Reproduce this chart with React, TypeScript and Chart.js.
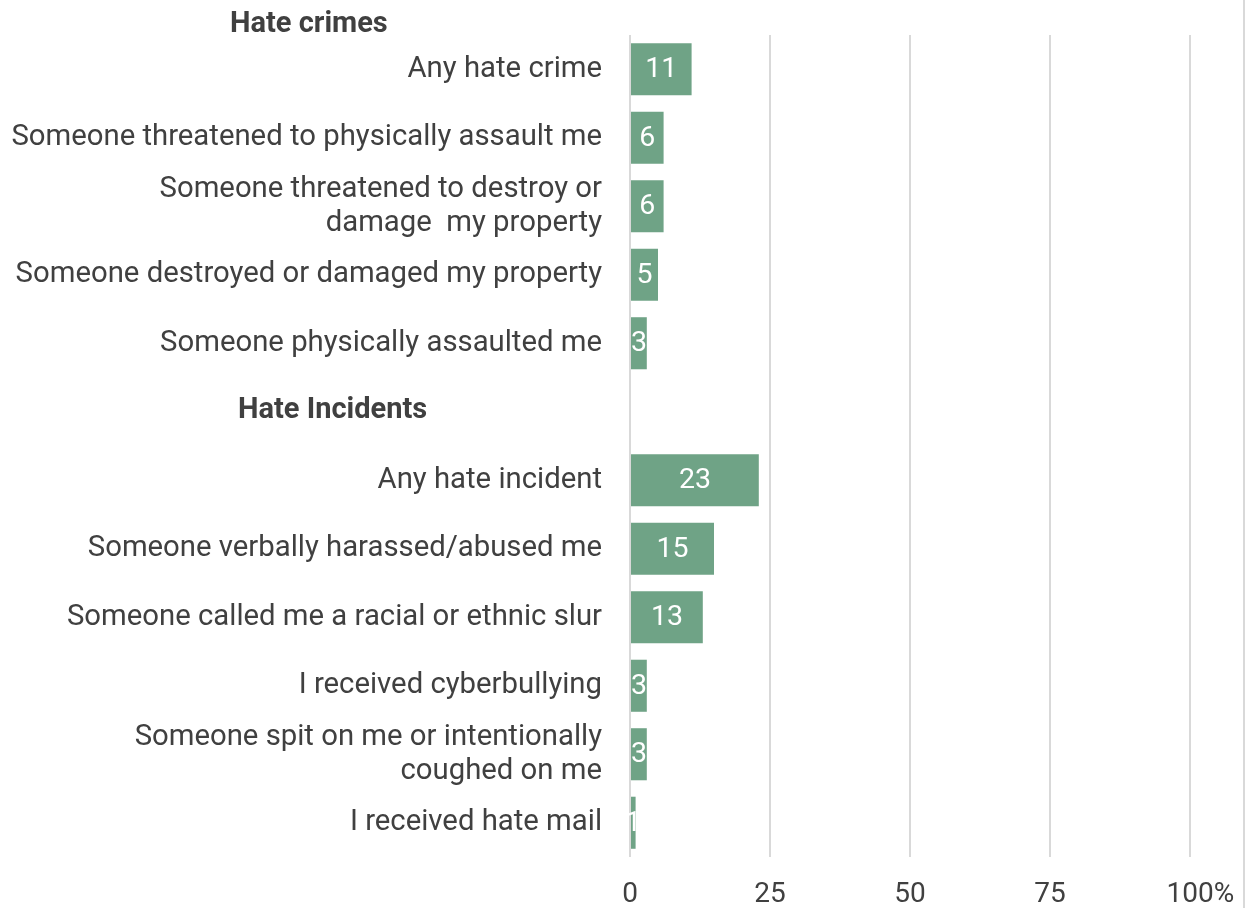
import React, { useEffect, useRef } from "react";
import { Chart, registerables } from "chart.js";

Chart.register(...registerables);

const categories: (string | string[])[] = [
  "Any hate crime",
  "Someone threatened to physically assault me",
  ["Someone threatened to destroy or", "damage  my property"],
  "Someone destroyed or damaged my property",
  "Someone physically assaulted me",
  "",
  "Any hate incident",
  "Someone verbally harassed/abused me",
  "Someone called me a racial or ethnic slur",
  "I received cyberbullying",
  ["Someone spit on me or intentionally", "coughed on me"],
  "I received hate mail",
];

const values: (number | null)[] = [11, 6, 6, 5, 3, null, 23, 15, 13, 3, 3, 1];

const xTicks = [0, 25, 50, 75, 100];

const groupTitles = ["Hate crimes", "Hate Incidents"];

const TEXT = "#404040";
const BAR = "#6FA386";
const GRID = "#d9d9d9";

const labelsPlugin = {
  id: "barLabels",
  afterDatasetsDraw(chart: any) {
    const ctx = chart.ctx;
    const meta = chart.getDatasetMeta(0);
    ctx.save();
    ctx.fillStyle = "#ffffff";
    ctx.font = "28.5px Roboto";
    ctx.textAlign = "center";
    ctx.textBaseline = "middle";
    meta.data.forEach((bar: any, i: number) => {
      const v = values[i];
      if (v === null || v === undefined) return;
      const cx = (bar.x + bar.base) / 2;
      ctx.fillText(String(v), cx, bar.y + 1);
    });
    ctx.restore();
  },
};

const headersPlugin = {
  id: "groupHeaders",
  afterDraw(chart: any) {
    const ctx = chart.ctx;
    const yScale = chart.scales.y;
    ctx.save();
    ctx.fillStyle = TEXT;
    ctx.font = "bold 29px Roboto";
    ctx.textAlign = "left";
    ctx.textBaseline = "middle";
    ctx.fillText(groupTitles[0], 230, chart.chartArea.top - 10);
    ctx.fillText(groupTitles[1], 238, yScale.getPixelForValue(5) - 1);
    ctx.restore();
  },
};

export default function App() {
  const ref = useRef<HTMLCanvasElement | null>(null);

  useEffect(() => {
    if (!ref.current) return;
    const chart = new Chart(ref.current, {
      type: "bar",
      data: {
        labels: categories,
        datasets: [
          {
            data: values as any,
            backgroundColor: BAR,
            borderWidth: 0,
            barPercentage: 0.76,
            categoryPercentage: 1,
          },
        ],
      },
      options: {
        indexAxis: "y",
        animation: false,
        responsive: true,
        maintainAspectRatio: false,
        layout: { padding: { top: 35, right: 53, left: 0, bottom: 0 } },
        plugins: {
          legend: { display: false },
          tooltip: { enabled: false },
          title: { display: false },
        },
        scales: {
          x: {
            type: "linear",
            min: 0,
            max: 100,
            afterBuildTicks: (scale: any) => {
              scale.ticks = xTicks.map((v) => ({ value: v }));
            },
            afterFit: (scale: any) => {
              scale.height = 51;
              scale.paddingLeft = 0;
              scale.paddingRight = 0;
            },
            ticks: {
              color: TEXT,
              font: { family: "Roboto", size: 28 },
              padding: 21,
              maxRotation: 0,
              callback: (v: any) => (v === 100 ? "   100%" : String(v)),
            },
            grid: { color: GRID, lineWidth: 2, drawTicks: false },
            border: { display: false },
          },
          y: {
            afterFit: (scale: any) => {
              scale.width = 630;
              scale.paddingTop = 0;
              scale.paddingBottom = 0;
            },
            ticks: {
              color: TEXT,
              font: { family: "Roboto", size: 29.3, lineHeight: 1.16 },
              padding: 28,
              autoSkip: false,
            },
            grid: { display: false, drawTicks: false },
            border: { display: false },
          },
        },
      },
      plugins: [labelsPlugin, headersPlugin],
    });
    return () => chart.destroy();
  }, []);

  return (
    <div
      style={{
        position: "absolute",
        left: 0,
        top: 0,
        width: 1245,
        height: 908,
        boxSizing: "border-box",
        borderRight: "2px solid #d9d9d9",
        background: "#ffffff",
      }}
    >
      <div style={{ position: "relative", width: 1243, height: 908 }}>
        <canvas ref={ref} />
      </div>
    </div>
  );
}
